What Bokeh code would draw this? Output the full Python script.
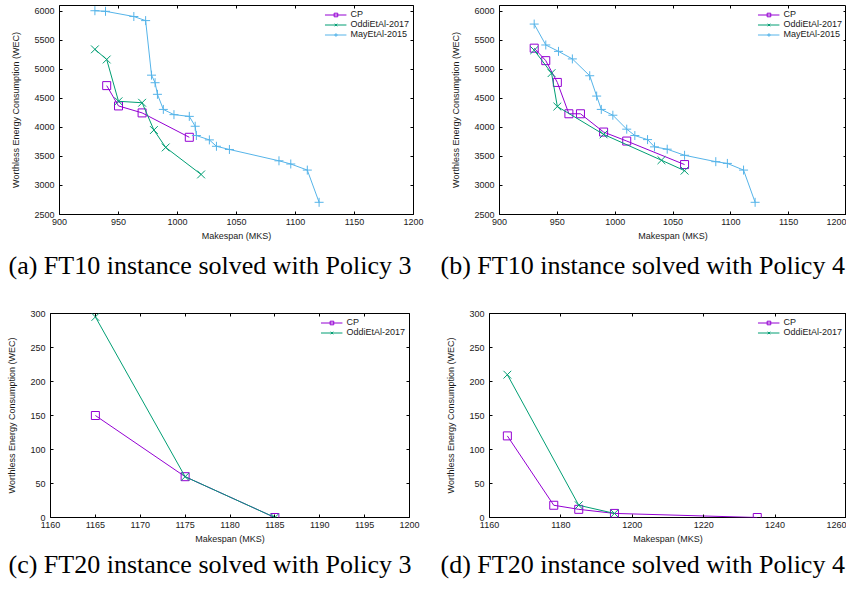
from bokeh.plotting import figure
from bokeh.models import (Range1d, LinearAxis, FixedTicker, Title, Legend, LegendItem,
                          CustomLabelingPolicy)
from bokeh.layouts import column, row
from bokeh.embed import file_html
from bokeh.resources import INLINE

# ---------------- data ----------------
# (a) FT10, Policy 3
a_cp_x = [940, 950, 970, 1010]
a_cp_y = [4720, 4370, 4250, 3830]
a_oddi_x = [930, 940, 950, 970, 980, 990, 1020]
a_oddi_y = [5345, 5170, 4450, 4425, 3955, 3655, 3190]
a_may_x = [930, 939, 963, 973, 978, 981, 983, 988, 997, 1010, 1015, 1016, 1027, 1033, 1044, 1086, 1096, 1110, 1120]
a_may_y = [6010, 6000, 5910, 5840, 4900, 4770, 4570, 4310, 4220, 4190, 4020, 3860, 3785, 3675, 3620, 3425, 3370, 3265, 2710]

# (b) FT10, Policy 4
b_cp_x = [930, 940, 950, 960, 970, 990, 1010, 1060]
b_cp_y = [5365, 5150, 4775, 4235, 4235, 3920, 3765, 3360]
b_oddi_x = [930, 945, 950, 990, 1040, 1060]
b_oddi_y = [5330, 4935, 4360, 3880, 3435, 3255]
b_may_x = [930, 940, 951, 963, 978, 984, 988, 998, 1010, 1017, 1028, 1034, 1045, 1060, 1087, 1097, 1111, 1121]
b_may_y = [5780, 5420, 5310, 5180, 4890, 4540, 4310, 4210, 3970, 3860, 3790, 3665, 3625, 3520, 3410, 3380, 3265, 2710]

# (c) FT20, Policy 3
c_cp_x = [1165, 1175, 1185]
c_cp_y = [150, 60, 0]
c_oddi_x = [1165, 1175, 1185]
c_oddi_y = [295, 60, 0]

# (d) FT20, Policy 4
d_cp_x = [1165, 1178, 1185, 1195, 1235]
d_cp_y = [120, 18, 12, 6, 0]
d_oddi_x = [1165, 1185, 1195]
d_oddi_y = [210, 18, 6]

# ticks
ft10_xticks = [900, 950, 1000, 1050, 1100, 1150, 1200]
ft10_yticks = [2500, 3000, 3500, 4000, 4500, 5000, 5500, 6000]
c_xticks = [1160, 1165, 1170, 1175, 1180, 1185, 1190, 1195, 1200]
d_xticks = [1160, 1180, 1200, 1220, 1240, 1260]
ft20_yticks = [0, 50, 100, 150, 200, 250, 300]

series_names = ["CP", "OddiEtAl-2017", "MayEtAl-2015"]
captions = ["(a) FT10 instance solved with Policy 3",
            "(b) FT10 instance solved with Policy 4",
            "(c) FT20 instance solved with Policy 3",
            "(d) FT20 instance solved with Policy 4"]
x_label = "Makespan (MKS)"
y_label = "Worthless Energy Consumption (WEC)"

# ---------------- styling ----------------
COLORS = ["#9400D3", "#009E73", "#56B4E9"]
MARKERS = ["square", "x", "cross"]
SIZES = [8, 11, 9]
SANS = "Liberation Sans"
SERIF = "Liberation Serif"
TXT = "#1a1a1a"


def style_axis(ax, ticks, labels=True):
    ax.ticker = FixedTicker(ticks=ticks)
    ax.major_tick_in = 3
    ax.major_tick_out = 0
    ax.minor_tick_line_color = None
    ax.axis_line_color = None
    ax.major_tick_line_color = "black"
    if labels:
        ax.major_label_text_font = SANS
        ax.major_label_text_font_size = "9px"
        ax.major_label_text_color = TXT
        ax.axis_label_text_font = SANS
        ax.axis_label_text_font_size = "9px"
        ax.axis_label_text_font_style = "normal"
        ax.axis_label_text_color = TXT
    else:
        # mirrored tick marks only: no label is drawn at all
        ax.major_label_policy = CustomLabelingPolicy(
            code="return new indices.constructor(indices.size)")
        ax.major_label_text_font_size = "0px"
        ax.major_label_standoff = 0


def make_panel(series, xr, yr, xticks, yticks, caption, width, height,
               bl, br, bt, bb, cap_offset, cap_standoff):
    p = figure(width=width, height=height, output_backend="svg", toolbar_location=None,
               x_range=Range1d(*xr), y_range=Range1d(*yr),
               min_border_left=bl, min_border_right=br, min_border_top=bt, min_border_bottom=bb)
    p.xgrid.grid_line_color = None
    p.ygrid.grid_line_color = None
    p.outline_line_color = "black"
    p.outline_line_width = 1
    p.background_fill_color = "white"
    p.border_fill_color = "white"

    style_axis(p.xaxis[0], xticks)
    style_axis(p.yaxis[0], yticks)
    p.xaxis[0].axis_label = x_label
    p.yaxis[0].axis_label = y_label
    p.xaxis[0].major_label_standoff = 4
    p.xaxis[0].axis_label_standoff = 3
    p.yaxis[0].major_label_standoff = 5
    p.yaxis[0].axis_label_standoff = 10

    top = LinearAxis()
    style_axis(top, xticks, labels=False)
    p.add_layout(top, "above")
    right = LinearAxis()
    style_axis(right, yticks, labels=False)
    p.add_layout(right, "right")

    items = []
    for i, (xs, ys) in enumerate(series):
        ln = p.line(xs, ys, line_color=COLORS[i], line_width=1)
        sc = p.scatter(xs, ys, marker=MARKERS[i], size=SIZES[i], fill_color=None,
                       line_color=COLORS[i], line_width=1)
        items.append(LegendItem(label=series_names[i], renderers=[ln, sc]))

    leg = Legend(items=items, location="top_right", border_line_color=None,
                 background_fill_alpha=0, label_text_font=SANS, label_text_font_size="9px",
                 label_text_color=TXT, glyph_width=22, glyph_height=9, label_height=9,
                 spacing=0, padding=2, margin=4, label_standoff=4)
    p.add_layout(leg)

    p.add_layout(Title(text=caption, align="left", offset=cap_offset, standoff=cap_standoff,
                       text_font=SERIF, text_font_size="26px", text_font_style="normal",
                       text_color="black"), "below")
    return p


# top row: figure height 290, frame 5..214
pa = make_panel([(a_cp_x, a_cp_y), (a_oddi_x, a_oddi_y), (a_may_x, a_may_y)],
                (900, 1200), (2500, 6100), ft10_xticks, ft10_yticks, captions[0],
                431, 290, 59, 18, 5, 76, -51, 10)
pb = make_panel([(b_cp_x, b_cp_y), (b_oddi_x, b_oddi_y), (b_may_x, b_may_y)],
                (900, 1200), (2500, 6100), ft10_xticks, ft10_yticks, captions[1],
                415, 290, 68, 0, 5, 76, -59, 10)
# bottom row: figure height 289, frame 313..521
pc = make_panel([(c_cp_x, c_cp_y), (c_oddi_x, c_oddi_y)],
                (1160, 1200), (0, 300), c_xticks, ft20_yticks, captions[2],
                431, 289, 50, 22, 23, 58, -42, 2)
pd = make_panel([(d_cp_x, d_cp_y), (d_oddi_x, d_oddi_y)],
                (1160, 1260), (0, 300), d_xticks, ft20_yticks, captions[3],
                415, 289, 58, 0, 23, 58, -49, 2)

layout = column(row(pa, pb), row(pc, pd))
open("out.html", "w").write(file_html(layout, INLINE))
